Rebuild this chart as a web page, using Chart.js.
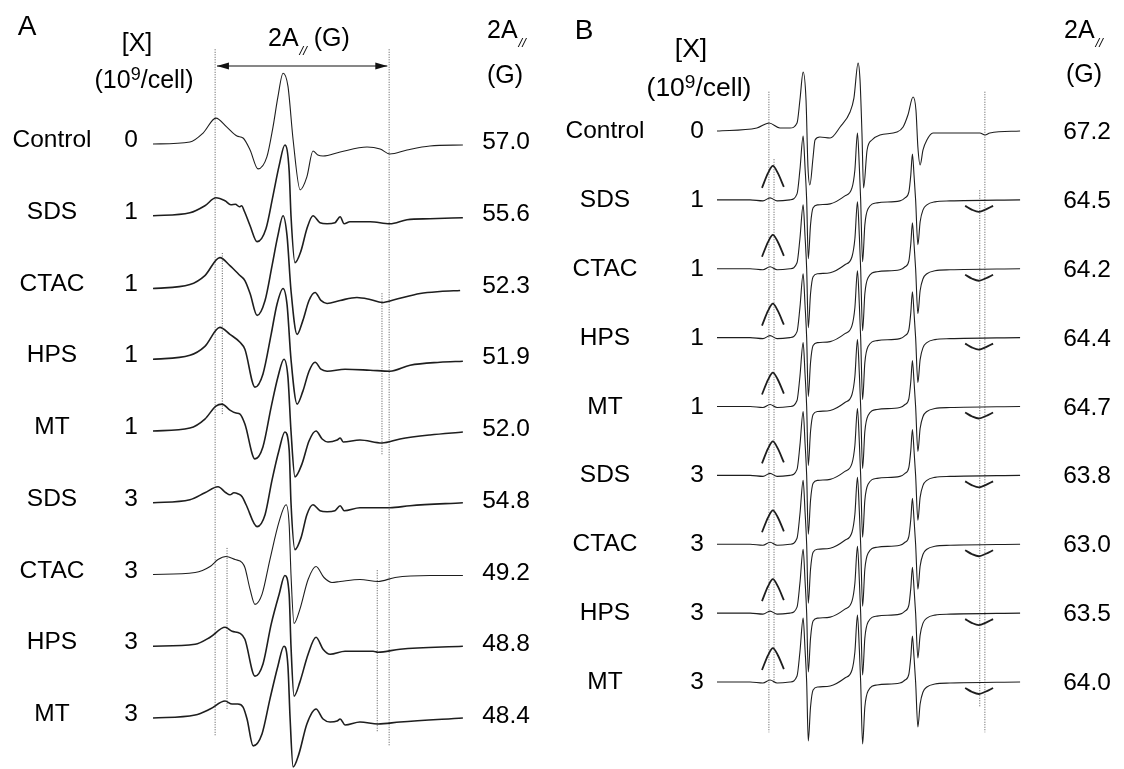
<!DOCTYPE html>
<html>
<head>
<meta charset="utf-8">
<title>EPR spectra – 2A//</title>
<script src="https://cdn.jsdelivr.net/npm/chart.js@4.4.1/dist/chart.umd.min.js"></script>
<style>
  html, body { margin: 0; padding: 0; background: #fff; }
  #wrap { position: relative; width: 1124px; height: 769px; overflow: hidden;
          font-family: "Liberation Sans", Arial, Helvetica, sans-serif; color: #000; }
  #plot { position: absolute; left: 0; top: 0; }
  .lbl { position: absolute; line-height: 1; white-space: nowrap; font-size: 24.5px; }
  .c { transform: translate(-50%, -50%); }
  .l { transform: translateY(-50%); }
  .hdr { font-size: 25px; }
  .hdrB { font-size: 26.5px; }
  .panel { font-size: 28px; }
  sup { font-size: 0.72em; position: relative; top: -0.42em; vertical-align: baseline; line-height: 0; }
  sub { font-size: 13px; font-style: italic; position: relative; top: 9px; vertical-align: baseline; line-height: 0; margin-left: 1px; }
</style>
</head>
<body>
<div id="wrap">
  <canvas id="plot" width="1124" height="769"></canvas>

  <div class="lbl panel c" style="left:27px;top:26px">A</div>
  <div class="lbl hdr c" style="left:137px;top:42px">[X]</div>
  <div class="lbl hdr c" style="left:144px;top:79px">(10<sup>9</sup>/cell)</div>
  <div class="lbl hdr l" style="left:268px;top:37px">2A<sub>//</sub> (G)</div>
  <div class="lbl hdr l" style="left:487px;top:29px">2A<sub>//</sub></div>
  <div class="lbl hdr l" style="left:487px;top:74px">(G)</div>

  <div class="lbl panel c" style="left:584px;top:30px">B</div>
  <div class="lbl hdrB c" style="left:691px;top:48px">[X]</div>
  <div class="lbl hdrB c" style="left:699px;top:87px">(10<sup>9</sup>/cell)</div>
  <div class="lbl hdr l" style="left:1064px;top:29px">2A<sub>//</sub></div>
  <div class="lbl hdr l" style="left:1066px;top:73px">(G)</div>
</div>

<script>
'use strict';

// ---- data -------------------------------------------------------------
// rows, top to bottom (same order in both panels)
const rowNames = ['Control', 'SDS', 'CTAC', 'HPS', 'MT', 'SDS', 'CTAC', 'HPS', 'MT'];
const rowConc  = ['0', '1', '1', '1', '1', '3', '3', '3', '3'];
const widthA   = [57.0, 55.6, 52.3, 51.9, 52.0, 54.8, 49.2, 48.8, 48.4];   // 2A// (G), panel A
const widthB   = [67.2, 64.5, 64.2, 64.4, 64.7, 63.8, 63.0, 63.5, 64.0];   // 2A// (G), panel B

// panel A spectra: [field offset (G), signal (a.u.)]
const specA_Control = [[0,0],[12.1,2],[16.4,11],[20.6,26],[24.2,17],[27.5,8],[29.5,6],[31.8,-6],[34.4,-25],[37.3,-13],[39.3,17],[40.9,47],[42.6,71],[44.2,58],[45.9,4],[48.2,-46],[50.4,-33],[52.4,-7],[54.0,-11],[55.7,-12],[61.3,-8],[70.1,-3],[74.4,-5],[77.6,-10],[83.2,-6],[90.7,-2],[101.5,-1]];
const specA_SDS1 = [[0,0],[12.1,3],[17.0,10],[20.6,18],[23.6,15],[25.5,11],[27.0,11.5],[28.3,9],[29.0,10],[30.0,4],[31.8,-10],[34.1,-26],[37.0,-13],[39.3,20],[41.3,50],[43.2,71],[44.6,45],[45.2,0],[46.5,-47],[48.5,-35],[50.4,-13],[52.4,0],[54.7,-7],[57.0,-8],[59.6,-7],[61.3,-1],[62.6,-8],[64.5,-6],[71.1,-6],[77.6,-8],[83.2,-4],[90.7,-3],[101.5,-2]];
const specA_CTAC1 = [[0,-1],[12.1,3],[17.0,12],[21.9,30],[25.2,22],[28.5,12],[30.1,7],[31.8,-6],[34.1,-28],[36.7,-13],[39.0,22],[40.9,52],[42.6,72],[43.9,52],[45.2,-3],[47.2,-47],[49.1,-33],[51.1,-13],[53.1,-5],[55.0,-13],[57.0,-16],[61.3,-13],[66.8,-10],[71.1,-12],[75.0,-15],[79.3,-12],[87.5,-6],[94.0,-4],[100.6,-3]];
const specA_HPS1 = [[0,0],[12.1,4],[17.0,13],[21.9,32],[25.2,25],[28.5,17],[30.1,10],[33.4,-28],[36.0,-15],[38.7,25],[40.6,55],[42.6,71],[43.9,55],[45.2,0],[47.2,-45],[49.1,-32],[51.1,-12],[53.1,-3],[55.0,-10],[57.0,-12],[62.9,-10],[71.1,-11],[77.6,-12],[84.2,-6],[94.0,-3],[101.5,-2]];
const specA_MT1 = [[0,0],[12.1,3],[17.0,12],[20.6,25],[22.6,27],[25.2,21],[27.2,18],[28.5,17],[30.1,7],[33.4,-28],[36.0,-16],[38.7,24],[40.9,54],[42.9,72],[44.2,54],[45.2,0],[46.5,-46],[48.8,-33],[51.1,-10],[53.4,0],[55.4,-8],[57.3,-11],[60.3,-9],[61.3,-7],[62.3,-11],[67.8,-9],[75.0,-12],[80.9,-8],[90.7,-4],[101.5,-1]];
const specA_SDS3 = [[0,0],[12.1,3],[17.0,10],[21.3,16],[23.9,10],[25.2,8],[26.5,10],[27.8,9],[29.2,6],[30.5,-2],[34.1,-24],[36.7,-12],[39.0,23],[41.3,53],[43.2,71],[44.6,53],[45.2,0],[46.5,-47],[48.5,-35],[50.4,-12],[52.4,-2],[54.7,-8],[57.0,-9],[59.6,-8],[61.3,-3],[62.6,-8],[67.8,-5],[77.6,-5],[84.2,-3],[101.5,0]];
const specA_CTAC3 = [[0,0],[13.8,2],[18.7,8],[21.3,15],[23.9,18],[26.9,15],[29.2,12],[30.1,7],[31.8,-15],[33.4,-30],[35.7,-20],[38.3,15],[41.3,53],[43.6,70],[44.6,50],[45.2,0],[46.2,-49],[48.1,-35],[50.8,-5],[53.4,8],[56.0,-3],[58.6,-8],[61.3,-7],[67.8,-5],[73.7,-7],[79.3,-3],[90.7,-1],[101.5,-1]];
const specA_HPS3 = [[0,0],[13.8,2],[18.7,9],[23.6,19],[25.9,15],[28.5,13],[30.1,7],[33.4,-30],[36.0,-18],[38.7,22],[41.3,52],[43.2,71],[44.6,52],[45.2,0],[46.2,-50],[48.1,-36],[50.8,-8],[53.4,9],[55.7,-3],[58.0,-8],[62.9,-5],[72.1,-5],[73.7,-6],[80.9,-3],[101.5,0]];
const specA_MT3 = [[0,0],[13.8,3],[18.7,9],[23.6,17],[25.9,14],[27.8,14],[29.5,11],[30.8,-1],[32.8,-28],[35.7,-16],[38.3,19],[40.9,52],[42.9,72],[44.2,52],[44.9,0],[45.9,-49],[47.8,-36],[50.4,-6],[53.4,9],[55.7,-1],[58.0,-4],[60.3,-3],[61.3,-1],[62.9,-7],[67.8,-4],[73.7,-6],[80.9,-4],[101.5,0]];
const spectraA = [specA_Control, specA_SDS1, specA_CTAC1, specA_HPS1, specA_MT1,
                  specA_SDS3, specA_CTAC3, specA_HPS3, specA_MT3];

// panel B spectra: control, and the treated samples (all rows 1-8 look alike)
const specB_Control = [[0,0],[12.4,3],[16.2,8],[19.6,3],[22.7,3],[24.9,8],[25.8,31],[26.8,59],[27.7,31],[28.3,-36],[28.9,-54],[29.9,-26],[30.5,-9],[32.0,-6],[35.2,-7],[38.3,4],[41.4,19],[42.6,33],[43.9,68],[44.5,51],[45.1,-2],[45.6,-57],[46.7,-19],[48.2,-9],[50.7,-4],[56.0,-1],[57.9,4],[59.4,16],[61.0,34],[61.9,21],[62.5,-16],[63.2,-34],[64.1,-19],[65.3,-9],[67.2,-2],[70.3,-2],[81.8,-2],[83.4,-4],[84.9,-2],[94.3,0]];
const specB_Treated = [[0,0],[10.3,0],[14.3,-1],[16.5,2],[18.7,-1],[22.7,0],[24.9,6],[25.8,30],[26.8,64],[27.4,32],[27.9,0],[28.4,-59],[29.1,-25],[29.9,-8],[31.4,-5],[35.2,-4],[39.8,4],[42.0,12],[42.9,30],[43.7,67],[44.3,32],[44.7,0],[45.3,-62],[46.0,-25],[47.0,-9],[49.8,-3],[56.9,-1],[58.5,2],[59.7,8],[60.3,25],[60.8,46],[61.3,25],[61.8,0],[62.5,-45],[63.2,-22],[64.1,-10],[65.3,-5],[67.8,-2],[72.5,-1],[94.3,0]];
// magnified low-field peak and high-field trough drawn above / on each treated trace
const insetLow  = [[14.0,12],[15.9,27],[17.4,34],[18.9,27],[20.8,13]];
const insetHigh = [[77.2,-6],[79.4,-10],[81.5,-12],[83.7,-9.5],[85.9,-6]];

// ---- layout -----------------------------------------------------------
const W = 1124, H = 769;
const PA = { x0: 153, pxPerG: 3.053, base0: 144, rowPx: 71.75, step: 72, center: 48.85 };
const PB = { x0: 717, pxPerG: 3.214, base0: 131, rowPx: 68.875, step: 69, center: 49.75 };
const INK = '#1e1e1e';
const GUIDE = '#555';

function ranges(P) {
  const k = P.rowPx / P.step;
  const xMin = -P.x0 / P.pxPerG, yMax = P.base0 / k;
  return { x: { min: xMin, max: xMin + W / P.pxPerG }, y: { min: yMax - H / k, max: yMax } };
}
const rA = ranges(PA), rB = ranges(PB);

const datasets = [];
function trace(panel, P, pts, row, width) {
  datasets.push({
    data: pts.map(([g, v]) => ({ x: g, y: v - row * P.step })),
    xAxisID: 'x' + panel, yAxisID: 'y' + panel,
    borderColor: INK, borderWidth: width, pointRadius: 0,
    cubicInterpolationMode: 'monotone', fill: false
  });
}
function guide(panel, P, g, rowTop, rowBot) {
  datasets.push({
    data: [{ x: g, y: -rowTop * P.step }, { x: g, y: -rowBot * P.step }],
    xAxisID: 'x' + panel, yAxisID: 'y' + panel,
    borderColor: GUIDE, borderWidth: 1, borderDash: [1, 1.5], pointRadius: 0, fill: false
  });
}
function guidePair(panel, P, w, left, right) {
  guide(panel, P, P.center - w / 2, left[0], left[1]);
  guide(panel, P, P.center + w / 2, right[0], right[1]);
}

// panel A
const smoothA = [true, false, false, false, false, false, true, false, false];
spectraA.forEach((s, i) => trace('A', PA, s, i, smoothA[i] ? 1.1 : 1.6));
guidePair('A', PA, widthA[0], [-1.32, 8.24], [-1.32, 8.38]);
guidePair('A', PA, widthA[2], [1.52, 3.78], [2.08, 4.33]);
guidePair('A', PA, widthA[6], [5.63, 7.89], [5.94, 8.19]);
// 2A// arrow between the outer guides
datasets.push({
  data: [{ x: PA.center - widthA[0] / 2 + 0.6, y: 1.087 * PA.step },
         { x: PA.center + widthA[0] / 2 - 0.6, y: 1.087 * PA.step }],
  xAxisID: 'xA', yAxisID: 'yA', borderColor: '#111', borderWidth: 1.2, pointRadius: 0, arrow: true
});

// panel B
trace('B', PB, specB_Control, 0, 1.1);
for (let i = 1; i < rowNames.length; i++) {
  trace('B', PB, specB_Treated, i, 1.1);
  trace('B', PB, insetLow, i, 1.8);
  trace('B', PB, insetHigh, i, 1.8);
}
const innerB = widthB.slice(1).reduce((a, b) => a + b, 0) / (widthB.length - 1);
guidePair('B', PB, widthB[0], [-0.57, 8.73], [-0.57, 8.73]);
guidePair('B', PB, innerB, [0.41, 8.01], [0.86, 8.36]);

const arrowHeads = {
  id: 'arrowHeads',
  afterDatasetsDraw(chart) {
    const ctx = chart.ctx;
    chart.data.datasets.forEach((d, i) => {
      if (!d.arrow) return;
      const pts = chart.getDatasetMeta(i).data;
      ctx.save();
      ctx.fillStyle = d.borderColor;
      [[pts[0], 1], [pts[pts.length - 1], -1]].forEach(([p, dir]) => {
        ctx.beginPath();
        ctx.moveTo(p.x, p.y);
        ctx.lineTo(p.x + dir * 12, p.y - 3.5);
        ctx.lineTo(p.x + dir * 12, p.y + 3.5);
        ctx.closePath();
        ctx.fill();
      });
      ctx.restore();
    });
  }
};

const chart = new Chart(document.getElementById('plot'), {
  type: 'line',
  data: { datasets },
  plugins: [arrowHeads],
  options: {
    responsive: false,
    animation: false,
    events: [],
    layout: { padding: 0 },
    plugins: { legend: { display: false }, tooltip: { enabled: false } },
    scales: {
      xA: { type: 'linear', display: false, ...rA.x },
      yA: { type: 'linear', display: false, ...rA.y },
      xB: { type: 'linear', display: false, ...rB.x },
      yB: { type: 'linear', display: false, ...rB.y }
    }
  }
});

// ---- row labels, placed on each trace's baseline ----------------------
const wrap = document.getElementById('wrap');
function label(text, cx, cy) {
  const el = document.createElement('div');
  el.className = 'lbl c';
  el.textContent = text;
  el.style.left = cx + 'px';
  el.style.top = cy + 'px';
  wrap.appendChild(el);
}
rowNames.forEach((name, i) => {
  const ya = chart.scales.yA.getPixelForValue(-i * PA.step);
  label(name, 52, ya - 5);
  label(rowConc[i], 131, ya - 5);
  label(widthA[i].toFixed(1), 506, ya - 3);

  const yb = chart.scales.yB.getPixelForValue(-i * PB.step);
  label(name, 605, yb - 1);
  label(rowConc[i], 697, yb - 1);
  label(widthB[i].toFixed(1), 1087, yb);
});
</script>
</body>
</html>
